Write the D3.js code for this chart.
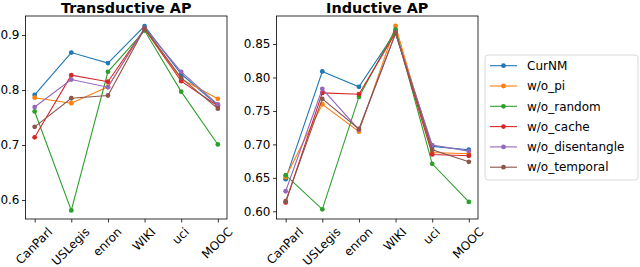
<!DOCTYPE html>
<html>
<head>
<meta charset="utf-8">
<script src="https://cdn.jsdelivr.net/npm/d3@7"></script>
<style>
  body { margin: 0; background: #fff; }
  svg text { font-family: "DejaVu Sans", sans-serif; }
</style>
</head>
<body>
<div id="chart"></div>
<script>
const datasets = ["CanParl", "USLegis", "enron", "WIKI", "uci", "MOOC"];
const variants = ["CurNM", "w/o_pi", "w/o_random", "w/o_cache", "w/o_disentangle", "w/o_temporal"];
const colors = ["#1f77b4", "#ff7f0e", "#2ca02c", "#d62728", "#9467bd", "#8c564b"];

// Transductive AP, one row per variant
const transCurNM = [0.791, 0.868, 0.849, 0.916, 0.829, 0.772];
const transPi = [0.786, 0.776, 0.806, 0.912, 0.820, 0.784];
const transRandom = [0.761, 0.581, 0.833, 0.908, 0.797, 0.701];
const transCache = [0.714, 0.827, 0.815, 0.911, 0.816, 0.771];
const transDisentangle = [0.769, 0.819, 0.805, 0.913, 0.833, 0.774];
const transTemporal = [0.733, 0.785, 0.790, 0.912, 0.822, 0.766];

// Inductive AP
const indCurNM = [0.648, 0.809, 0.786, 0.868, 0.697, 0.692];
const indPi = [0.651, 0.760, 0.719, 0.877, 0.688, 0.686];
const indRandom = [0.654, 0.603, 0.771, 0.872, 0.671, 0.614];
const indCache = [0.613, 0.777, 0.775, 0.867, 0.685, 0.683];
const indDisentangle = [0.630, 0.783, 0.722, 0.866, 0.699, 0.690];
const indTemporal = [0.615, 0.768, 0.723, 0.866, 0.692, 0.674];

const transTicks = [0.6, 0.7, 0.8, 0.9];
const indTicks = [0.60, 0.65, 0.70, 0.75, 0.80, 0.85];

const width = 640, height = 267;
const svg = d3.select("#chart").append("svg")
  .attr("width", width).attr("height", height)
  .attr("viewBox", [0, 0, width, height]);

const plotTop = 16, plotBottom = 219;
const tickFont = 12;

const panels = [
  { title: "Transductive AP", left: 25.5, right: 227, domain: [0.5655, 0.9345], ticks: transTicks, fmt: d3.format(".1f"),
    series: [transCurNM, transPi, transRandom, transCache, transDisentangle, transTemporal] },
  { title: "Inductive AP", left: 276.5, right: 478, domain: [0.5885, 0.8919], ticks: indTicks, fmt: d3.format(".2f"),
    series: [indCurNM, indPi, indRandom, indCache, indDisentangle, indTemporal] }
];

panels.forEach(p => {
  const g = svg.append("g");
  const x = d3.scalePoint().domain(datasets).range([p.left, p.right]).padding(0.25);
  const y = d3.scaleLinear().domain(p.domain).range([plotBottom, plotTop]);

  const yAxis = g.append("g").attr("transform", `translate(${p.left},0)`)
    .call(d3.axisLeft(y).tickValues(p.ticks).tickFormat(p.fmt).tickSizeOuter(0).tickSize(3.5).tickPadding(2.5));
  yAxis.select(".domain").remove();
  yAxis.selectAll("text").attr("font-size", tickFont).attr("fill", "#000");
  yAxis.selectAll("line").attr("stroke", "#000").attr("stroke-width", 0.8);

  const xAxis = g.append("g").attr("transform", `translate(0,${plotBottom})`)
    .call(d3.axisBottom(x).tickSize(3.5).tickSizeOuter(0));
  xAxis.select(".domain").remove();
  xAxis.selectAll("line").attr("stroke", "#000").attr("stroke-width", 0.8);
  xAxis.selectAll("text")
    .attr("font-size", tickFont).attr("fill", "#000")
    .attr("dy", null).attr("y", null)
    .attr("text-anchor", "middle")
    .attr("dominant-baseline", "central")
    .each(function () {
      const w = this.getComputedTextLength();
      const h = tickFont * 0.9;
      const off = 3.5 + 3.5 + (w + h) * Math.SQRT1_2 / 2;
      d3.select(this).attr("transform", `translate(-1,${off}) rotate(-45)`);
    });

  p.series.forEach((vals, i) => {
    const pts = datasets.map((d, j) => [x(d), y(vals[j])]);
    g.append("path")
      .attr("d", d3.line()(pts))
      .attr("fill", "none")
      .attr("stroke", colors[i])
      .attr("stroke-width", 1.1);
    g.selectAll(null).data(pts).join("circle")
      .attr("cx", d => d[0]).attr("cy", d => d[1])
      .attr("r", 2.4).attr("fill", colors[i]);
  });

  g.append("rect")
    .attr("x", p.left).attr("y", plotTop)
    .attr("width", p.right - p.left).attr("height", plotBottom - plotTop)
    .attr("fill", "none").attr("stroke", "#000").attr("stroke-width", 0.8);

  g.append("text")
    .attr("x", (p.left + p.right) / 2).attr("y", 13)
    .attr("text-anchor", "middle")
    .attr("font-size", 14.4).attr("font-weight", "bold")
    .text(p.title);
});

// legend
const legend = svg.append("g");
legend.append("rect")
  .attr("x", 485).attr("y", 55).attr("width", 153).attr("height", 125)
  .attr("rx", 3).attr("fill", "#fff").attr("fill-opacity", 0.8)
  .attr("stroke", "#d0d0d0").attr("stroke-width", 0.8);

const rows = legend.selectAll(".row").data(variants).join("g")
  .attr("class", "row")
  .attr("transform", (d, i) => `translate(0,${65.7 + i * 20.3})`);
rows.append("line")
  .attr("x1", 490).attr("x2", 517).attr("y1", 0).attr("y2", 0)
  .attr("stroke", (d, i) => colors[i]).attr("stroke-width", 1.1);
rows.append("circle")
  .attr("cx", 503.5).attr("cy", 0).attr("r", 2.4)
  .attr("fill", (d, i) => colors[i]);
rows.append("text")
  .attr("x", 527).attr("y", 0).attr("dy", "0.35em")
  .attr("font-size", 12)
  .text(d => d);
</script>
</body>
</html>
